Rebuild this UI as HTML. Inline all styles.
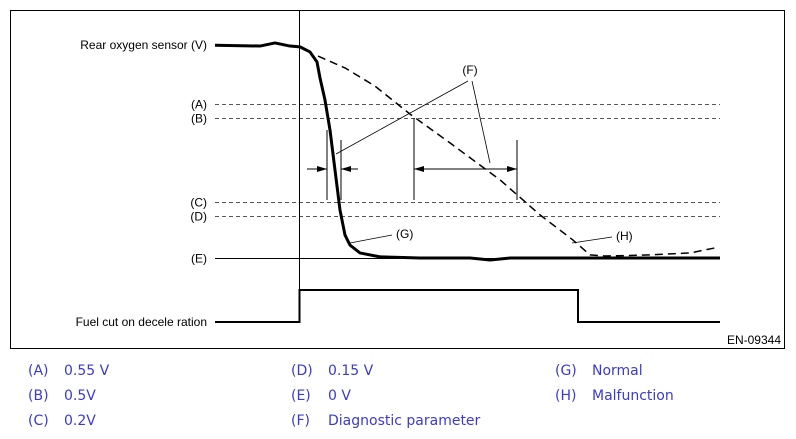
<!DOCTYPE html>
<html><head><meta charset="utf-8"><style>
body{margin:0;background:#fff;width:796px;height:439px;overflow:hidden;font-family:"DejaVu Sans","Liberation Sans",sans-serif}
svg{position:absolute;left:0;top:0}
.lg{position:absolute;font-size:14px;color:#3a3acf;white-space:nowrap}
</style></head><body>
<svg width="796" height="350" id="c" font-family="Liberation Sans, sans-serif" font-size="12">
<rect x="10.5" y="10.5" width="774" height="338" fill="none" stroke="#000"/>
<text x="207" y="49" text-anchor="end">Rear oxygen sensor (V)</text>
<text x="207" y="326" text-anchor="end">Fuel cut on decele ration</text>
<text x="781" y="344" text-anchor="end">EN-09344</text>
<line x1="299.5" y1="11" x2="299.5" y2="322" stroke="#000"/>
<path d="M215 322H299.5V290H578V322H720" fill="none" stroke="#000" stroke-width="2"/>
<g stroke="#000" fill="none">
<line x1="327" y1="130" x2="327" y2="200"/><line x1="341" y1="140" x2="341" y2="200"/>
<line x1="307" y1="169" x2="327" y2="169"/><line x1="341" y1="169" x2="358" y2="169"/>
<line x1="414" y1="118" x2="414" y2="200"/><line x1="517" y1="140" x2="517" y2="200"/>
<line x1="414" y1="169" x2="517" y2="169"/>
<line x1="468" y1="81" x2="336" y2="154" stroke-width="0.8"/><line x1="472" y1="81" x2="490" y2="163" stroke-width="0.8"/>
<line x1="350" y1="243" x2="392" y2="235" stroke-width="0.8"/><line x1="572" y1="243" x2="612" y2="237" stroke-width="0.8"/>
</g>
<g fill="#000">
<path d="M327 169l-10 -3v6z"/><path d="M341 169l10 -3v6z"/>
<path d="M414 169l10 -3v6z"/><path d="M517 169l-10 -3v6z"/>
</g>
<text x="470" y="74" text-anchor="middle">(F)</text>
<text x="396" y="238">(G)</text>
<text x="616" y="240">(H)</text>
</svg>
<script>
const levelNames=["(A)","(B)","(C)","(D)","(E)"];
const levelVolts=[0.55,0.5,0.2,0.15,0];
const normalT=[0,45,60,75,85,95,102,105,110,115,120,125,130,135,145,165,205,255,275,295,505];
const normalV=[0.76,0.757,0.768,0.757,0.754,0.736,0.7,0.643,0.564,0.457,0.314,0.171,0.082,0.046,0.018,0.004,0,0,-0.007,0,0];
const malT=[103,130,160,195,235,285,325,358,375,390,435,475,500];
const malV=[0.721,0.679,0.614,0.514,0.411,0.279,0.154,0.064,0.011,0.007,0.011,0.018,0.036];
const svg=document.getElementById('c');const NS='http://www.w3.org/2000/svg';
const X=t=>215+t, Y=v=>258-v*280;
levelNames.forEach((n,i)=>{
 const l=document.createElementNS(NS,'line');
 
 
 const y=Math.round(Y(levelVolts[i]))+0.5;
 l.setAttribute('x1',215);l.setAttribute('x2',720);l.setAttribute('y1',y);l.setAttribute('y2',y);
 l.setAttribute('stroke',levelVolts[i]===0?'#000':'#555');
 if(levelVolts[i]!==0)l.setAttribute('stroke-dasharray','4 3');
 svg.insertBefore(l,svg.firstChild.nextSibling);
 const t=document.createElementNS(NS,'text');
 
 
 t.setAttribute('x',207);t.setAttribute('y',y+4);t.setAttribute('text-anchor','end');t.textContent=n;svg.appendChild(t);
});
function poly(T,V,name,w,dash){
 const p=document.createElementNS(NS,'polyline');
 
 
 p.setAttribute('points',T.map((t,i)=>X(t)+','+Y(V[i])).join(' '));
 p.setAttribute('fill','none');p.setAttribute('stroke','#000');p.setAttribute('stroke-width',w);
 p.setAttribute('stroke-linejoin','round');
 if(dash)p.setAttribute('stroke-dasharray',dash);
 svg.appendChild(p);
}
poly(normalT,normalV,'normal-curve',3);
poly(malT,malV,'malfunction-curve',1.5,'8 5');
</script>
<div>
<div class="lg" style="left:28px;top:363px">(A)</div><div class="lg" style="left:64px;top:363px">0.55 V</div>
<div class="lg" style="left:28px;top:388px">(B)</div><div class="lg" style="left:64px;top:388px">0.5V</div>
<div class="lg" style="left:28px;top:413px">(C)</div><div class="lg" style="left:64px;top:413px">0.2V</div>
<div class="lg" style="left:291px;top:363px">(D)</div><div class="lg" style="left:328px;top:363px">0.15 V</div>
<div class="lg" style="left:291px;top:388px">(E)</div><div class="lg" style="left:328px;top:388px">0 V</div>
<div class="lg" style="left:291px;top:413px">(F)</div><div class="lg" style="left:328px;top:413px">Diagnostic parameter</div>
<div class="lg" style="left:555px;top:363px">(G)</div><div class="lg" style="left:592px;top:363px">Normal</div>
<div class="lg" style="left:555px;top:388px">(H)</div><div class="lg" style="left:592px;top:388px">Malfunction</div>
</div>
</body></html>
